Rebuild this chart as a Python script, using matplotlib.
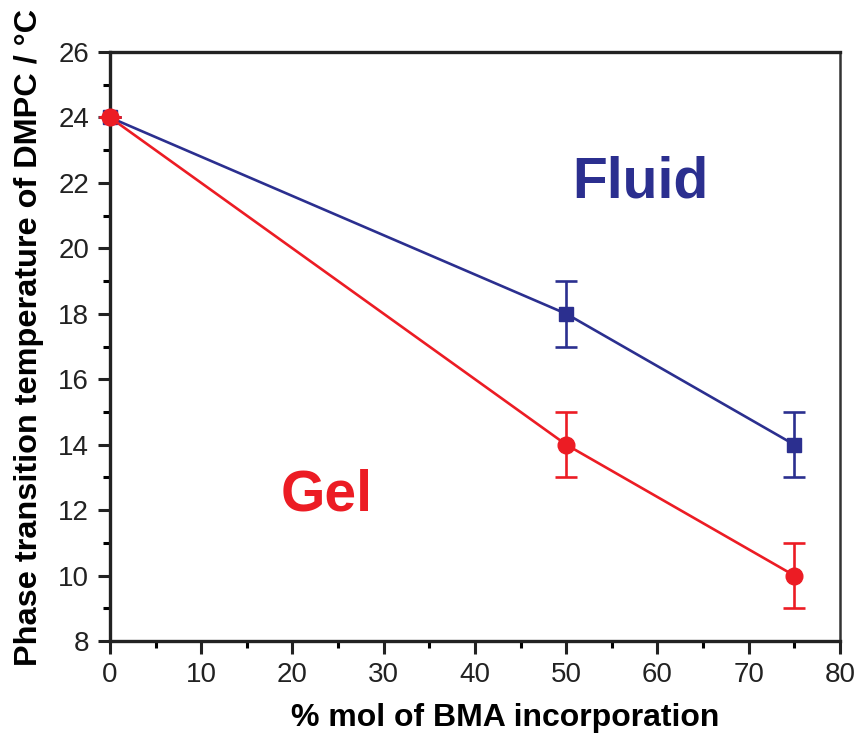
import numpy as np
import matplotlib
matplotlib.use('Agg')
from matplotlib import pyplot as plt
from matplotlib.ticker import MultipleLocator

plt.rcParams['font.family'] = ['Liberation Sans', 'DejaVu Sans']

# data
bma = [0, 50, 75]
fluid_t = [24, 18, 14]
fluid_err = [0, 1, 1]
gel_t = [24, 14, 10]
gel_err = [0, 1, 1]

blue = '#2b2f8f'
red = '#ec1c24'

fig = plt.figure(figsize=(8.56, 7.33), dpi=100)
ax = fig.add_axes([0.1285, 0.1255, 0.8528, 0.8035])

ax.errorbar(bma, fluid_t, yerr=fluid_err, color=blue, lw=1.9, marker='s', ms=10,
            capsize=8, capthick=1.9, elinewidth=1.9, zorder=3)
ax.errorbar(bma, gel_t, yerr=gel_err, color=red, lw=1.9, marker='o', ms=12,
            capsize=8, capthick=1.9, elinewidth=1.9, zorder=4)

ax.text(58.1, 22, 'Fluid', color=blue, fontsize=41, fontweight='bold', ha='center', va='center')
ax.text(23.7, 12.45, 'Gel', color=red, fontsize=41, fontweight='bold', ha='center', va='center')

ax.set_xlim(0, 80)
ax.set_ylim(8, 26)
ax.xaxis.set_major_locator(MultipleLocator(10))
ax.xaxis.set_minor_locator(MultipleLocator(5))
ax.yaxis.set_major_locator(MultipleLocator(2))
ax.yaxis.set_minor_locator(MultipleLocator(1))
ax.tick_params(which='major', direction='out', length=9, width=2.2, labelsize=20, pad=6, colors='#222222')
ax.tick_params(which='minor', direction='out', length=5, width=2.2)
ax.tick_params(labelcolor='#222222')

for s in ['left', 'bottom', 'top']:
    ax.spines[s].set_linewidth(2.4)
    ax.spines[s].set_color('#222222')
ax.spines['right'].set_linewidth(1.8)
ax.spines['right'].set_color('#333333')

ax.set_xlabel('% mol of BMA incorporation', fontsize=23, fontweight='bold')
ax.set_ylabel('Phase transition temperature of DMPC / °C', fontsize=23.4, fontweight='bold')
ax.xaxis.set_label_coords(0.541, -0.106)
ax.yaxis.set_label_coords(-0.091, 0.516)

for line in ax.lines:
    line.set_clip_on(False)

fig.savefig('out.png', dpi=100)
